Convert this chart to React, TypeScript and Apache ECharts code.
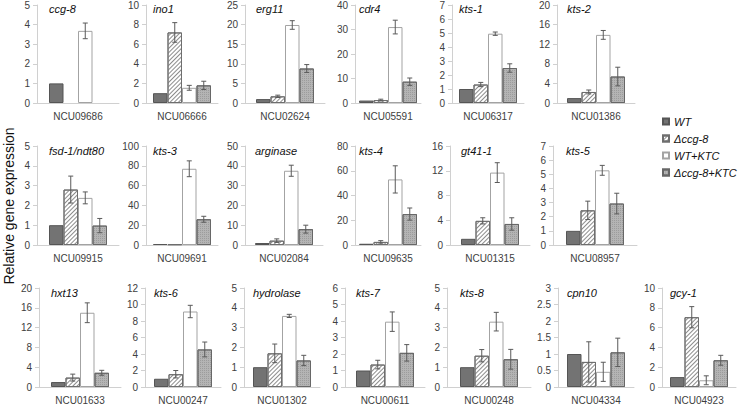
import React, { useEffect, useRef } from 'react';
import * as echarts from 'echarts';

const genes = ['ccg-8', 'ino1', 'erg11', 'cdr4', 'kts-1', 'kts-2', 'fsd-1/ndt80', 'kts-3', 'arginase', 'kts-4', 'gt41-1', 'kts-5', 'hxt13', 'kts-6', 'hydrolase', 'kts-7', 'kts-8', 'cpn10', 'gcy-1'];
const loci = ['NCU09686', 'NCU06666', 'NCU02624', 'NCU05591', 'NCU06317', 'NCU01386', 'NCU09915', 'NCU09691', 'NCU02084', 'NCU09635', 'NCU01315', 'NCU08957', 'NCU01633', 'NCU00247', 'NCU01302', 'NCU00611', 'NCU00248', 'NCU04334', 'NCU04923'];
const seriesNames = ['WT', 'Δccg-8', 'WT+KTC', 'Δccg-8+KTC'];

const wt = [1, 1, 1, 1, 1, 1, 1, 1, 1, 1, 1, 1, 1, 1, 1, 1, 1, 1, 1];
const wtErr = [0, 0, 0, 0, 0, 0, 0, 0, 0, 0, 0, 0, 0, 0, 0, 0, 0, 0, 0];
const dccg8 = [0, 7.2, 1.7, 1.2, 1.32, 2.25, 2.8, 0.8, 2.2, 2.5, 3.9, 2.45, 1.9, 1.55, 1.7, 1.36, 1.58, 0.76, 7.05];
const dccg8Err = [0, 1.0, 0.3, 0.35, 0.15, 0.4, 0.68, 0, 0.9, 1.0, 0.5, 0.65, 0.7, 0.45, 0.47, 0.26, 0.31, 0.61, 1.07];
const wtKtc = [3.68, 1.55, 19.9, 31, 4.95, 13.9, 2.38, 77, 37.5, 53, 11.7, 5.28, 15, 9.15, 3.59, 3.96, 3.3, 0.46, 0.68];
const wtKtcErr = [0.4, 0.25, 1.1, 2.8, 0.12, 0.9, 0.3, 8, 2.8, 11, 1.6, 0.35, 2.0, 0.75, 0.08, 0.59, 0.47, 0.29, 0.45];
const dccg8Ktc = [0, 1.8, 8.8, 8.7, 2.5, 5.4, 0.98, 26, 8, 25, 3.4, 2.93, 2.87, 4.55, 1.34, 2.07, 1.4, 1.05, 2.7];
const dccg8KtcErr = [0, 0.42, 1.0, 1.5, 0.3, 1.9, 0.36, 3, 2, 4.9, 1.0, 0.73, 0.5, 0.9, 0.26, 0.5, 0.5, 0.43, 0.5];

const yMax = [5, 10, 25, 40, 7, 20, 5, 100, 50, 80, 16, 7, 20, 12, 5, 6, 5, 3, 10];
const yStep = [1, 2, 5, 10, 1, 4, 1, 20, 10, 20, 4, 1, 4, 2, 1, 1, 1, 0.5, 2];

// layout (pixels)
const rowTop = [4, 146, 288];
const rowHeight = 99;
const panelRow = [0, 0, 0, 0, 0, 0, 1, 1, 1, 1, 1, 1, 2, 2, 2, 2, 2, 2, 2];
const panelAxisX = [37, 146, 245, 355, 452, 557, 37, 146, 245, 355, 450, 553, 39, 145, 244, 345, 447, 558, 662];
const panelCenter = [78, 182, 285, 388, 488, 596, 78, 182, 284, 388, 490, 595, 80, 183, 282, 385, 489, 596, 699];

const BW = 14.5;
const FONT = '"Liberation Sans", Arial, sans-serif';

const values = [wt, dccg8, wtKtc, dccg8Ktc];
const errors = [wtErr, dccg8Err, wtKtcErr, dccg8KtcErr];

const barStyles: any[] = [
  { color: '#737373', borderColor: '#555555', borderWidth: 1 },
  {
    color: '#ffffff', borderColor: '#6e6e6e', borderWidth: 1,
    decal: { symbol: 'rect', symbolSize: 1, dashArrayX: [1, 0], dashArrayY: [1, 2], rotation: -Math.PI / 4, color: '#8c8c8c' },
  },
  { color: '#ffffff', borderColor: '#a3a3a3', borderWidth: 1 },
  {
    color: '#b4b4b4', borderColor: '#676767', borderWidth: 1,
    decal: { symbol: 'rect', symbolSize: 1, dashArrayX: [1, 1], dashArrayY: [1, 1], rotation: 0, color: '#9c9c9c' },
  },
];

export default function App() {
  const ref = useRef<HTMLDivElement>(null);
  useEffect(() => {
    if (!ref.current) return;
    const chart = echarts.init(ref.current, undefined, { renderer: 'svg' });
    const grid: any[] = [];
    const xAxis: any[] = [];
    const yAxis: any[] = [];
    const series: any[] = [];
    const title: any[] = [];
    genes.forEach((g, i) => {
      const r = panelRow[i];
      const w = 2 * (panelCenter[i] - panelAxisX[i]);
      grid.push({ left: panelAxisX[i], top: rowTop[r], width: w, height: rowHeight, containLabel: false });
      xAxis.push({
        type: 'category', gridIndex: i, data: [loci[i]],
        axisTick: { show: false },
        axisLine: { lineStyle: { color: '#d0d0d0', width: 1 } },
        axisLabel: { fontSize: 10, color: '#404040', margin: 8, fontFamily: FONT },
      });
      yAxis.push({
        type: 'value', gridIndex: i, min: 0, max: yMax[i], interval: yStep[i],
        splitLine: { show: false },
        axisLine: { show: true, lineStyle: { color: '#d0d0d0', width: 1 } },
        axisTick: { show: true, length: 4, lineStyle: { color: '#d0d0d0' } },
        axisLabel: { fontSize: 10, color: '#404040', margin: 7, fontFamily: FONT },
      });
      title.push({
        text: g, left: panelCenter[i] - 29, top: rowTop[r] - 1, padding: 0,
        textStyle: { fontSize: 11, fontStyle: 'italic', fontWeight: 'normal', color: '#111', fontFamily: FONT },
      });
      seriesNames.forEach((name, k) => {
        const v = values[k][i];
        series.push({
          type: 'bar', name, xAxisIndex: i, yAxisIndex: i,
          barWidth: BW, barGap: '0%',
          data: [v === 0 ? null : v],
          itemStyle: barStyles[k],
          emphasis: { disabled: true },
        });
      });
      const eb: any[] = [];
      seriesNames.forEach((_, k) => {
        const v = values[k][i];
        const e = errors[k][i];
        if (v !== 0 && e > 0) eb.push([0, k, v, e]);
      });
      series.push({
        type: 'custom', xAxisIndex: i, yAxisIndex: i, z: 10,
        data: eb,
        renderItem: (params: any, api: any) => {
          const k = api.value(1);
          const v = api.value(2);
          const e = api.value(3);
          const c = api.coord([0, v]);
          const x = c[0] + (k - 1.5) * BW;
          const yTop = api.coord([0, v + e])[1];
          const yBot = api.coord([0, v - e])[1];
          const st = { stroke: '#5a5a5a', lineWidth: 1 };
          return {
            type: 'group',
            children: [
              { type: 'line', shape: { x1: x, y1: yTop, x2: x, y2: yBot }, style: st },
              { type: 'line', shape: { x1: x - 2.5, y1: yTop, x2: x + 2.5, y2: yTop }, style: st },
              { type: 'line', shape: { x1: x - 2.5, y1: yBot, x2: x + 2.5, y2: yBot }, style: st },
            ],
          };
        },
      });
    });
    chart.setOption({
      animation: false,
      backgroundColor: '#ffffff',
      title,
      grid,
      xAxis,
      yAxis,
      series,
      legend: {
        data: seriesNames,
        orient: 'vertical',
        left: 662,
        top: 115,
        padding: 0,
        icon: 'rect',
        itemWidth: 6,
        itemHeight: 6,
        itemGap: 4,
        selectedMode: false,
        textStyle: { fontSize: 11, fontStyle: 'italic', color: '#111', fontFamily: FONT, lineHeight: 13 },
      },
      graphic: [
        {
          type: 'text', x: 9, y: 206, rotation: Math.PI / 2,
          style: { text: 'Relative gene expression', fontSize: 14, fill: '#111', fontFamily: FONT, textAlign: 'center', textVerticalAlign: 'middle' },
        },
      ],
    });
    return () => chart.dispose();
  }, []);
  return <div ref={ref} style={{ position: 'absolute', left: 0, top: 0, width: 738, height: 405 }} />;
}
